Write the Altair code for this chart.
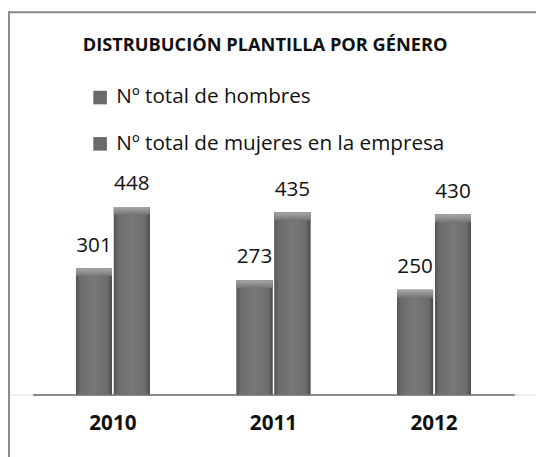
import altair as alt
import pandas as pd

years = ["2010", "2011", "2012"]
series = ["Nº total de hombres", "Nº total de mujeres en la empresa"]
hombres = [301, 273, 250]
mujeres = [448, 435, 430]
title_text = "DISTRUBUCIÓN PLANTILLA POR GÉNERO"

rows = []
for i, y in enumerate(years):
    rows.append({"year": y, "serie": series[0], "value": hombres[i]})
    rows.append({"year": y, "serie": series[1], "value": mujeres[i]})
df = pd.DataFrame(rows)

FONT = "Open Sans"
W, H = 536, 389

x_enc = alt.X("year:N", sort=years,
              scale=alt.Scale(range=[25, 514], paddingInner=0.54, paddingOuter=0.27),
              axis=alt.Axis(title=None, domainColor="#8a8a8a", domainWidth=2, ticks=False,
                            labelAngle=0, labelFont=FONT, labelFontSize=21, labelFontWeight="bold",
                            labelColor="#111111", labelPadding=18, grid=False))
xo_enc = alt.XOffset("serie:N", sort=series, scale=alt.Scale(paddingInner=0.05, paddingOuter=0))
y_enc = alt.Y("value:Q", scale=alt.Scale(domain=[0, 915], nice=False), axis=None)

base = alt.Chart(df)

legend_bars = base.mark_bar().encode(
    x=x_enc, xOffset=xo_enc, y=y_enc,
    color=alt.Color("serie:N", sort=series,
                    scale=alt.Scale(domain=series, range=["#6a6a6a", "#6a6a6a"]),
                    legend=alt.Legend(title=None, orient="none", legendX=83, legendY=77,
                                      symbolType="square", symbolSize=190, symbolStrokeWidth=0,
                                      labelFont=FONT, labelFontSize=21, labelColor="#111111",
                                      rowPadding=25, labelOffset=6, labelLimit=440)),
)

grad_h = alt.Gradient(gradient="linear", x1=0, x2=1, y1=0, y2=0,
                      stops=[alt.GradientStop(offset=0, color="#545454"),
                             alt.GradientStop(offset=0.12, color="#6c6c6c"),
                             alt.GradientStop(offset=0.5, color="#787878"),
                             alt.GradientStop(offset=0.88, color="#6c6c6c"),
                             alt.GradientStop(offset=1, color="#4a4a4a")])
grad_bars = base.mark_bar(color=grad_h).encode(x=x_enc, xOffset=xo_enc, y=y_enc)

grad_v = alt.Gradient(gradient="linear", x1=0, x2=0, y1=0, y2=1,
                      stops=[alt.GradientStop(offset=0, color="#a8a8a8"),
                             alt.GradientStop(offset=1, color="#747474")])
bevel = base.mark_bar(color=grad_v, y2Offset=8).encode(
    x=x_enc, xOffset=xo_enc, y=y_enc, y2=alt.Y2("value:Q"))

labels = base.mark_text(font=FONT, fontSize=21, color="#111111", baseline="alphabetic", dy=-17).encode(
    x=x_enc, xOffset=xo_enc, y=y_enc, text=alt.Text("value:Q"))

border_left = alt.Chart(pd.DataFrame({"a": [0]})).mark_rule(color="#8a8a8a", strokeWidth=2).encode(
    x=alt.value(1), y=alt.value(0), y2=alt.value(460))
border_top = alt.Chart(pd.DataFrame({"a": [0]})).mark_rule(color="#8a8a8a", strokeWidth=2).encode(
    x=alt.value(0), x2=alt.value(540), y=alt.value(1))

chart = alt.layer(legend_bars, grad_bars, bevel, labels, border_left, border_top).properties(
    width=W, height=H,
    autosize=alt.AutoSizeParams(type="none"),
    padding={"left": 0, "top": 0, "right": 0, "bottom": 60},
    title=alt.TitleParams(title_text, font=FONT, fontSize=18.5, fontWeight="bold", color="#111111",
                          anchor="middle", dx=-7, dy=49),
).configure_view(stroke=None).configure(background="white")

chart.save("out.html", embed_options={"renderer": "svg", "actions": False})
